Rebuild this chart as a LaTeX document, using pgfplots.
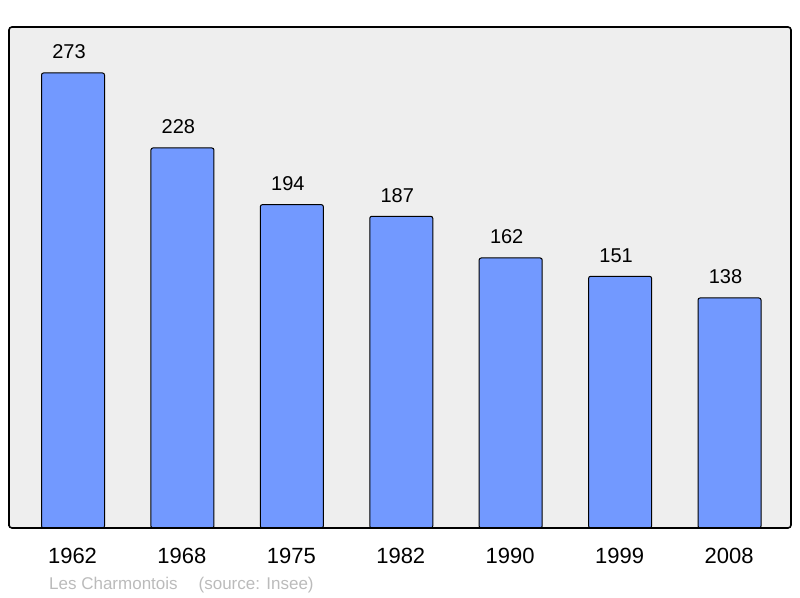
\documentclass[border=0pt]{standalone}
\usepackage{pgfplots}
\pgfplotsset{compat=1.18}
\usepackage{fontspec}
\setmainfont{Liberation Sans}
\definecolor{barblue}{HTML}{7299FF}
\definecolor{bgray}{HTML}{EEEEEE}
\definecolor{foot}{HTML}{BBBBBB}
\begin{document}
\begin{tikzpicture}[x=1bp,y=1bp]
\useasboundingbox (0,0) rectangle (800,598);
\begin{axis}[
  at={(9bp,70bp)}, anchor=south west,
  scale only axis, width=782bp, height=501bp,
  xmin=-0.585, xmax=6.562, ymin=0, ymax=300.6,
  axis background/.style={fill=bgray},
  axis on top,
  axis line style={line width=1.6bp, rounded corners=3bp},
  ytick=\empty,
  xtick={0,1,2,3,4,5,6},
  xticklabels={1962,1968,1975,1982,1990,1999,2008},
  major tick length=0pt,
  xticklabel style={font=\fontsize{22bp}{26bp}\selectfont, anchor=base, yshift=-36bp, xshift=-0.5bp},
  /pgf/number format/assume math mode=true,
  ybar, bar width=63bp,
  nodes near coords,
  every node near coord/.append style={font=\fontsize{20bp}{24bp}\selectfont, anchor=base, yshift=14bp, xshift=-4bp, text=black},
]
\addplot[fill=barblue, draw=black, line width=1bp, rounded corners=2bp] coordinates {
  (0,273) (1,228) (2,194) (3,187) (4,162) (5,151) (6,138)
};
\end{axis}
\node[anchor=base west, text=foot, font=\fontsize{17bp}{20bp}\selectfont, inner sep=0pt] at (49,8) {Les Charmontois\hspace{21bp}(source: Insee)};
\end{tikzpicture}
\end{document}
